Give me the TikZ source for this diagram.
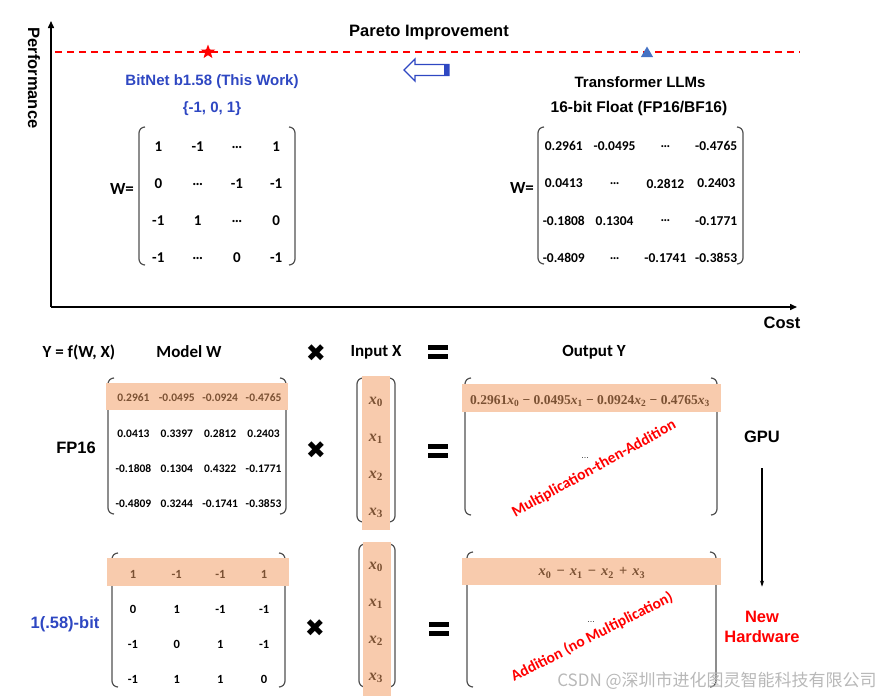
\documentclass[tikz,border=0pt]{standalone}
\usepackage[no-math]{fontspec}
\setmainfont{Liberation Sans}
\newfontfamily\calib{Carlito}
\newfontfamily\serifb{Liberation Serif}
\newfontfamily\symfont{DejaVu Sans}
\newfontfamily\cjk{Noto Sans CJK SC}
\usetikzlibrary{arrows.meta,shapes.geometric}

\definecolor{bitblue}{HTML}{2E47C2}
\definecolor{triblue}{HTML}{4472C4}
\definecolor{hlfill}{HTML}{F8CBAD}
\definecolor{hltext}{HTML}{7B5133}
\definecolor{brgray}{HTML}{505050}

\newcommand\fsz[2]{\fontsize{#1}{#2}\selectfont}
\newcommand\xvar[1]{{\itshape x}\textsubscript{#1}}
% paren pair: left x, right x, top y, bottom y
\newcommand\mparens[4]{%
  \draw[brk] (#1+6,#3) -- (#1,#3) -- (#1,#4) -- (#1+6,#4);
  \draw[brk] (#2-6,#3) -- (#2,#3) -- (#2,#4) -- (#2-6,#4);}

\begin{document}
\begin{tikzpicture}[
  x=1pt, y=-1pt,
  side/.style={font=\bfseries\fsz{16.5}{20}},
  lab/.style={font=\bfseries\fsz{15}{18}},
  blu/.style={lab, text=bitblue},
  wlab/.style={font=\calib\bfseries\fsz{17}{20}},
  head/.style={font=\calib\bfseries\fsz{17}{20}},
  ent/.style={inner sep=1pt},
  ttop/.style={ent, font=\calib\bfseries\fsz{15}{18}},
  ftop/.style={ent, font=\calib\bfseries\fsz{13.5}{16}},
  fbot/.style={ent, font=\calib\bfseries\fsz{11.5}{14}},
  tbot/.style={ent, font=\calib\bfseries\fsz{12.5}{15}},
  xv/.style={ent, text=hltext, font=\serifb\bfseries\fsz{16}{18}},
  yrow/.style={ent, text=hltext, font=\serifb\bfseries\fsz{13.5}{16}},
  note/.style={ent, text=red, font=\calib\bfseries\fsz{15.5}{18}},
  xsign/.style={font=\symfont\fsz{24}{26}},
  hl/.style={fill=hlfill},
  brk/.style={draw=brgray, line width=1.2pt, rounded corners=6pt},
  ax/.style={line width=1.5pt, -{Triangle[length=7pt,width=6pt]}},
  pareto/.style={red, line width=1.3pt, dash pattern=on 7pt off 5pt},
  eqbars/.pic={\fill (-10,-7) rectangle (10,-2); \fill (-10,2) rectangle (10,7);}]
\useasboundingbox (0,0) rectangle (880,696);

% ---- top: performance vs cost
\coordinate (org) at (51,307);
\coordinate (ytop) at (51,21);
\coordinate (xend) at (797,307);
\draw[ax] (org) -- (ytop);
\draw[ax] (org) -- (xend);
\node[side, rotate=-90] (perf) at (34,78) {Performance};
\node[side] (cost) at (782,323) {Cost};

\coordinate (pl) at (55,52);
\coordinate (pr) at (800,52);
\draw[pareto] (pl) -- (pr);
\node[star, star points=5, star point ratio=2.4, fill=red, minimum size=15pt, inner sep=0pt] (bitpt) at (208,52) {};
\node[regular polygon, regular polygon sides=3, fill=triblue, minimum size=14pt, inner sep=0pt] (fppt) at (647,53.5) {};
\node[side] (pareto) at (429,33) {Pareto Improvement};

% hollow arrow
\draw[bitblue, line width=1.3pt, line join=miter] (404,70) -- (415,59) -- (415,64.5) -- (449,64.5)
  -- (449,75.5) -- (415,75.5) -- (415,81) -- cycle;
\fill[bitblue] (444,64.5) rectangle (449,75.5);

\node[blu] (bitnet) at (212,82) {BitNet b1.58 (This Work)};
\node[blu] (tern) at (212,109) {\{-1, 0, 1\}};
\node[lab] (trans) at (640,82) {Transformer LLMs};
\node[lab, font=\bfseries\fsz{15.5}{18}] (fp16bf) at (639,108) {16-bit Float (FP16/BF16)};

% ternary matrix (top left)
\node[wlab] (wl) at (122,189) {W=};
\mparens{139}{295}{127}{265}
\foreach \row [count=\r] in {{1,-1,…,1},{0,…,-1,-1},{-1,1,…,0},{-1,…,0,-1}}
  \foreach \v [count=\c] in \row
    \node[ttop] (tw-\r-\c) at (119+39.3*\c, 110+37*\r) {\v};

% float matrix (top right)
\node[wlab] (wr) at (522,188) {W=};
\mparens{538}{743}{127}{264}
\foreach \row [count=\r] in {{0.2961,-0.0495,…,-0.4765},{0.0413,…,0.2812,0.2403},{-0.1808,0.1304,…,-0.1771},{-0.4809,…,-0.1741,-0.3853}}
  \foreach \v [count=\c] in \row
    \node[ftop] (fw-\r-\c) at (513+50.8*\c, 109+37.3*\r) {\v};

% ---- bottom: Y = f(W, X)
\node[head] (yfwx) at (79,352) {Y = f(W, X)};
\node[head] (modelw) at (189,352) {Model W};
\node[xsign] (mul0) at (316,353) {✖};
\node[head] (inx) at (376,352) {Input X};
\pic at (438,352) {eqbars};
\node[head] (outy) at (594,352) {Output Y};

% FP16 row
\node[side] (fp16) at (76,448) {FP16};
\mparens{108}{286}{378}{514}
\fill[hl] (106,383) rectangle (288,410);
\foreach \row [count=\r] in {{0.2961,-0.0495,-0.0924,-0.4765},{0.0413,0.3397,0.2812,0.2403},{-0.1808,0.1304,0.4322,-0.1771},{-0.4809,0.3244,-0.1741,-0.3853}}
  \foreach \v [count=\c] in \row {
    \ifnum\r=1 \def\tc{hltext}\else\def\tc{black}\fi
    \node[fbot, text=\tc] (fm-\r-\c) at (90+43.4*\c, 362.7+35.3*\r) {\v};
  }
\node[xsign] (mul1) at (316,450) {✖};
\mparens{357}{395}{378}{522}
\fill[hl] (362,376) rectangle (390,530);
\foreach \i in {0,...,3}
  \node[xv] (xa-\i) at (376,402+37*\i) {\xvar{\i}};
\pic at (438,451) {eqbars};
\mparens{465}{717}{378}{515}
\fill[hl] (462,384) rectangle (721,412);
\node[yrow] (ya) at (590,401) {0.2961\xvar{0} − 0.0495\xvar{1} − 0.0924\xvar{2} − 0.4765\xvar{3}};
\node[ent, font=\fsz{8}{9}] (dota) at (585,458) {…};
\node[note, rotate=29] (mta) at (594,469) {Multiplication-then-Addition};

\node[side] (gpu) at (762,437) {GPU};

% 1.58-bit row
\node[side, text=bitblue] (bit) at (65,624) {1(.58)-bit};
\mparens{112}{285}{553}{687}
\fill[hl] (107,558) rectangle (289,586);
\foreach \row [count=\r] in {{1,-1,-1,1},{0,1,-1,-1},{-1,0,1,-1},{-1,1,1,0}}
  \foreach \v [count=\c] in \row {
    \ifnum\r=1 \def\tc{hltext}\else\def\tc{black}\fi
    \node[tbot, text=\tc] (bm-\r-\c) at (89.3+43.7*\c, 539+35*\r) {\v};
  }
\node[xsign] (mul2) at (315,628) {✖};
\mparens{359}{395}{544}{687}
\fill[hl] (363,542) rectangle (391,696);
\foreach \i in {0,...,3}
  \node[xv] (xb-\i) at (376,567+37*\i) {\xvar{\i}};
\pic at (439,629) {eqbars};
\mparens{467}{716}{552}{687}
\fill[hl] (462,558) rectangle (721,585);
\node[yrow, font=\serifb\bfseries\fsz{14.5}{16}] (yb) at (592,573) {\xvar{0}\hspace{0.35em}−\hspace{0.35em}\xvar{1}\hspace{0.35em}−\hspace{0.35em}\xvar{2}\hspace{0.35em}+\hspace{0.35em}\xvar{3}};
\node[ent, font=\fsz{8}{9}] (dotb) at (591,622) {…};
\node[note, rotate=27] (adb) at (592,637) {Addition (no Multiplication)};

\node[side, text=red, align=center] (hw) at (762,627) {New\\Hardware};
\draw[line width=1.2pt, -{Stealth[length=6pt,width=4pt]}] ([yshift=-22pt]gpu.south) -- ([yshift=21pt]hw.north);

\node[text=black!28, font=\cjk\fsz{17}{20}] (mark) at (717,681) {CSDN @深圳市进化图灵智能科技有限公司};
\end{tikzpicture}
\end{document}
